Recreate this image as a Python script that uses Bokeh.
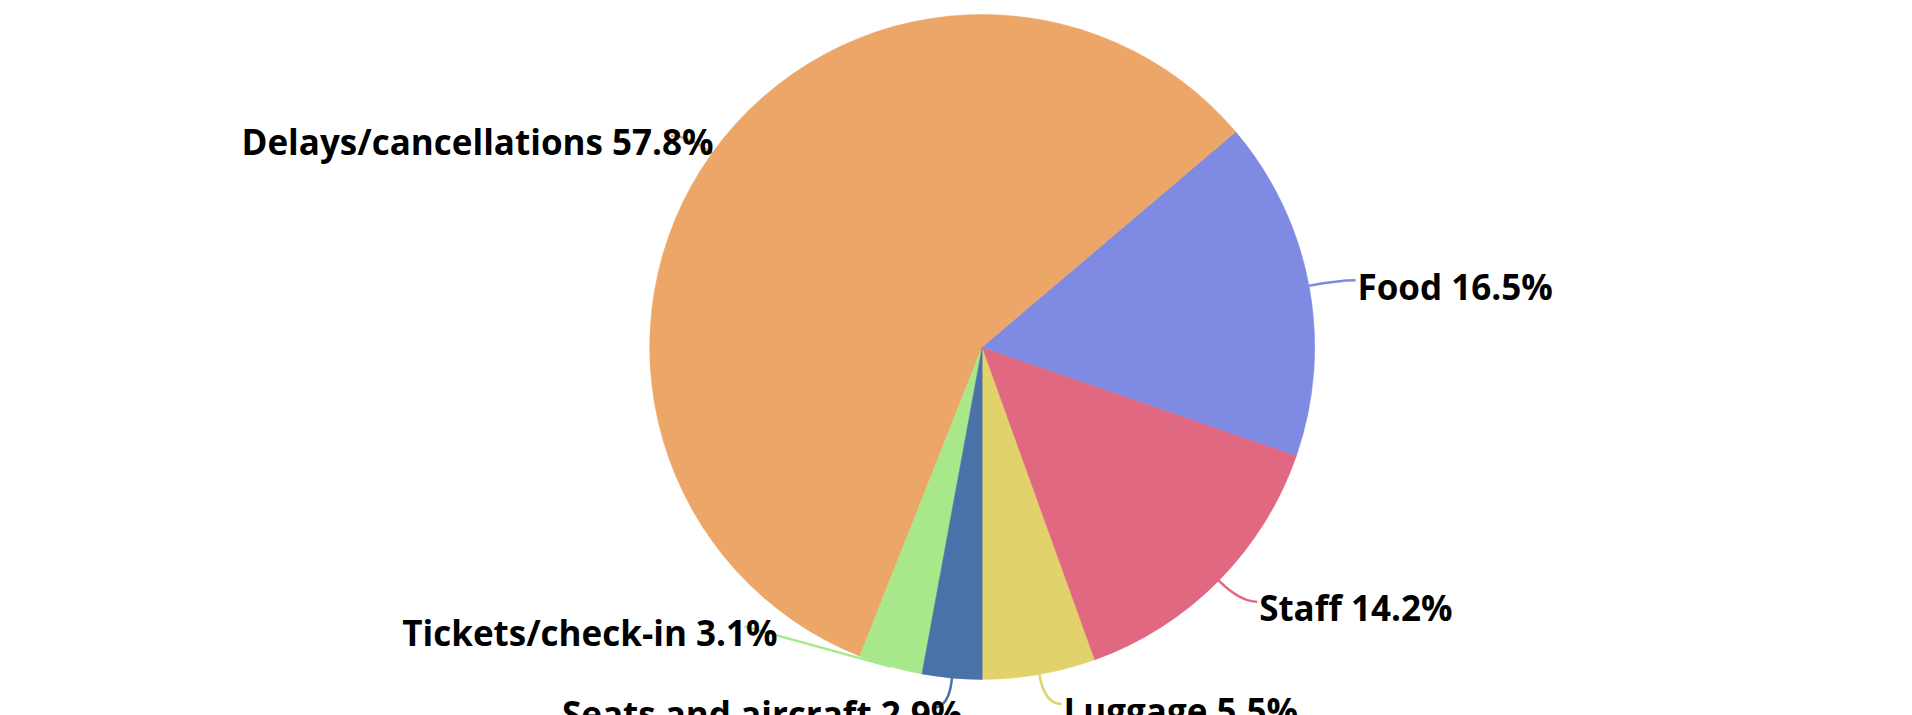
import numpy as np
from bokeh.plotting import figure
from bokeh.models import Range1d, ColumnDataSource
from bokeh.core.properties import value
from bokeh.embed import file_html
from bokeh.resources import INLINE

# ---------------- data ----------------
categories = ["Luggage", "Staff", "Food", "Delays/cancellations",
              "Tickets/check-in", "Seats and aircraft"]
shares = [5.5, 14.2, 16.5, 57.8, 3.1, 2.9]
colors = ["#E2D26C", "#E06880", "#7F8AE3", "#EBA668", "#A8E88A", "#4A72A8"]

# ---------------- layout ----------------
W, H = 1912, 715
CX, CY = 981.7, 368.5          # pie centre (data units = pixels)
R = 332.5                      # pie radius
L1, L2 = 30, 17                # leader line segment lengths
shift_x = [0, 0, 0, 0, -120.6, 0]    # label moves (overlap avoidance)
shift_y = [0, 0, 0, 0, 68.9, 0]
over = [0, 0, 0, 43, 33, 30]         # left-label text overhang
FONT = "Open Sans"
FSIZE = "35px"

vals = np.array(shares, dtype=float)
frac = vals / vals.sum()
ends = -np.pi / 2 + 2 * np.pi * np.cumsum(frac)
starts = ends - 2 * np.pi * frac
mids = (starts + ends) / 2

ex = CX + R * np.cos(mids)
ey = CY + R * np.sin(mids)
p2x = CX + (R + L1) * np.cos(mids)
p2y = CY + (R + L1) * np.sin(mids)
side = np.sign(np.cos(mids))
qx = p2x + side * L2 + np.array(shift_x)
qy = p2y + np.array(shift_y)
moved = (np.abs(np.array(shift_x)) + np.abs(np.array(shift_y))) > 0
cx = np.where(moved, (ex + qx) / 2, p2x)
cy = np.where(moved, (ey + qy) / 2, p2y)

labels = [f"{c} {v / vals.sum() * 100:.1f}%" for c, v in zip(categories, vals)]

p = figure(width=W, height=H, output_backend="svg", toolbar_location=None,
           x_range=Range1d(0, W), y_range=Range1d(715 - H, 715),
           min_border=0, outline_line_color=None)
p.xaxis.visible = False
p.yaxis.visible = False
p.grid.visible = False
p.background_fill_color = "white"
p.border_fill_color = "white"

lines = ColumnDataSource(dict(x0=ex, y0=ey, x1=qx, y1=qy, cx=cx, cy=cy, color=colors))
p.quadratic(x0="x0", y0="y0", x1="x1", y1="y1", cx="cx", cy="cy",
            line_color="color", line_width=2.5, source=lines)

wedges = ColumnDataSource(dict(x=[CX] * len(vals), y=[CY] * len(vals),
                               start=starts, end=ends, color=colors))
p.wedge(x="x", y="y", radius=R, radius_units="data", start_angle="start",
        end_angle="end", fill_color="color", line_color="color",
        line_width=0.5, source=wedges)

right = side > 0
tr = ColumnDataSource(dict(x=qx[right] + 2, y=qy[right] - 6,
                           t=[l for l, r in zip(labels, right) if r]))
tl = ColumnDataSource(dict(x=qx[~right] + np.array(over)[~right], y=qy[~right] - 6,
                           t=[l for l, r in zip(labels, right) if not r]))
p.text(x="x", y="y", text="t", source=tr, text_align="left", text_baseline="middle",
       text_font=value(FONT), text_font_style="bold", text_font_size=FSIZE,
       text_color="#000000")
p.text(x="x", y="y", text="t", source=tl, text_align="right", text_baseline="middle",
       text_font=value(FONT), text_font_style="bold", text_font_size=FSIZE,
       text_color="#000000")

open("out.html", "w").write(file_html(p, INLINE))
